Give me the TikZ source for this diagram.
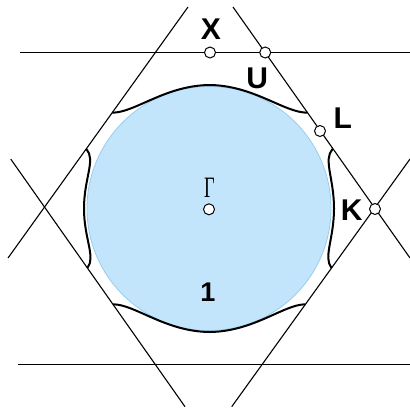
\documentclass[tikz,border=0pt]{standalone}
\usepackage{xcolor}
\usepackage{fontspec}
\setsansfont{Liberation Sans}
\newfontfamily\greekfont{Liberation Serif}
\usepackage{tikz}

\definecolor{fsblue}{RGB}{195,229,251}
\definecolor{fsedge}{RGB}{150,205,242}

\tikzset{
  zoneline/.style={draw=black,line width=0.55pt},
  fermiline/.style={draw=black,line width=1pt,line join=round},
  sympoint/.style={circle,draw=black,fill=white,line width=0.5pt,inner sep=0pt,minimum size=5.5pt},
  symlabel/.style={inner sep=0pt,outer sep=0pt,anchor=base,font=\sffamily\bfseries\fontsize{15}{18}\selectfont},
}

\begin{document}
\begin{tikzpicture}[x=.5pt,y=-.5pt]
\path[use as bounding box] (0,0) rectangle (410,407);
\path[fill=white,draw=none] (0,0) rectangle (410,407);
\path[fill=fsblue,draw=fsedge,line width=0.4pt] (209,208.5) circle[radius=61pt];
% zone boundaries
\draw[zoneline] (20,52.5) -- (410,52.5);
\draw[zoneline] (18.3,364.5) -- (410,364.5);
\draw[zoneline] (188,7) -- (8,258);
\draw[zoneline] (233,7) -- (410,258);
\draw[zoneline] (10.7,159) -- (185,406.7);
\draw[zoneline] (410,159) -- (231.7,406.7);
% Fermi surface
\draw[fermiline] (112.2,112.7) .. controls (135,112.7) and (165,85.5) .. (209.5,85) .. controls (254,85.5) and (284,112.7) .. (307.5,112.7);
\draw[fermiline] (113,304.3) .. controls (135,304.3) and (165,331.5) .. (209.5,332) .. controls (254,331.5) and (284,304.3) .. (305.4,304.3);
\draw[fermiline] (86.4,149) .. controls (96,160) and (84,178) .. (84,208.5) .. controls (84,239) and (96,257) .. (87.4,268);
\draw[fermiline] (332.5,149) .. controls (323,160) and (334,178) .. (334,208.5) .. controls (334,239) and (323,257) .. (331.5,268);
% symmetry points
\node[sympoint] (Gamma) at (209,209.3) {};
\node[sympoint] (X) at (210,52.5) {};
\node[sympoint] (U) at (265.2,52.5) {};
\node[sympoint] (L) at (320,131) {};
\node[sympoint] (K) at (375,209) {};
\node[symlabel] (Xlabel) at (210.8,39.3) {X};
\node[symlabel] (Ulabel) at (257.3,88.3) {U};
\node[symlabel] (Llabel) at (342.8,128.3) {L};
\node[symlabel] (Klabel) at (351.7,220.7) {K};
\node[symlabel,font=\sffamily\bfseries\fontsize{13.5}{16}\selectfont] (onelabel) at (208,301.7) {1};
\node[inner sep=0pt,outer sep=0pt,anchor=base,font=\greekfont\fontsize{14.8}{17}\selectfont] (Gammalabel) at (209.5,197.3) {\scalebox{0.62}[1]{Γ}};
\end{tikzpicture}
\end{document}
